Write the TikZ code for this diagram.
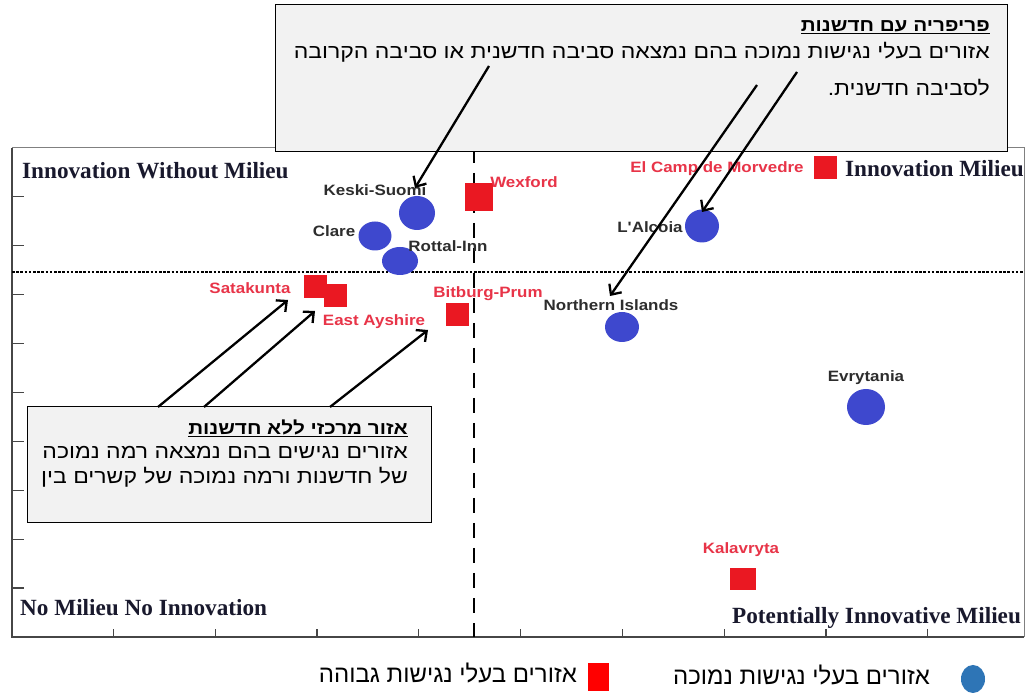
\documentclass[tikz,border=0pt]{standalone}
\usepackage{fontspec}
\setmainfont{Liberation Serif}
\newfontfamily\hebfont[Script=Hebrew,FakeStretch=1.15]{Liberation Sans}
\newfontfamily\legendfont[Script=Hebrew]{Liberation Sans}
\newfontfamily\labelfont[FakeStretch=1.13]{Liberation Sans}
\TeXXeTstate=1
\usetikzlibrary{arrows.meta}
\usetikzlibrary{shapes.geometric}
\definecolor{QuadInk}{RGB}{25,25,45}
\definecolor{RegionInk}{RGB}{45,45,45}
\definecolor{RegionRed}{RGB}{232,52,72}
\definecolor{MarkBlue}{RGB}{62,72,206}
\definecolor{MarkRed}{RGB}{234,24,34}
\definecolor{LegendBlue}{RGB}{46,117,182}
\definecolor{LegendRed}{RGB}{255,0,0}
\definecolor{BoxGray}{RGB}{242,242,242}
\definecolor{FrameGray}{RGB}{70,70,70}

\begin{document}
\begin{tikzpicture}[x=1bp,y=1bp,line join=miter]
  \path[use as bounding box] (0,0) rectangle (1027,693);
  \fill[white] (0,0) rectangle (1027,693);

  \tikzset{
    quadrant/.style={anchor=west,inner sep=0pt,text=QuadInk,
      font=\fontsize{23.2bp}{23.2bp}\selectfont\bfseries},
    region/.style={inner sep=0pt,text=RegionInk,
      font=\labelfont\fontsize{15bp}{15bp}\selectfont\bfseries},
    regionred/.style={region,text=RegionRed},
    lowacc/.style={ellipse,fill=MarkBlue,inner sep=0pt},
    highacc/.style={rectangle,fill=MarkRed,inner sep=0pt,minimum size=23bp},
    callout/.style={draw=black,line width=1bp,fill=BoxGray},
    hebline/.style={anchor=east,inner sep=0pt,text=black,
      font=\hebfont\fontsize{20bp}{20bp}\selectfont},
    hebtitle/.style={hebline,font=\hebfont\fontsize{18bp}{18bp}\selectfont\bfseries},
    legendtext/.style={anchor=east,inner sep=0pt,text=black,
      font=\legendfont\fontsize{24bp}{24bp}\selectfont},
    pointer/.style={-{Straight Barb[length=8bp,width=15bp,line width=2.3bp]},
      line width=2.3bp,draw=black},
  }

  % Frame & ticks
  \draw[line width=1bp,draw=gray] (12,545) -- (1024,545) -- (1024,56);
  \draw[line width=1.6bp,draw=FrameGray] (12,545) -- (12,56) -- (1024,56);
  \foreach \k in {1,...,9} {
    \draw[line width=1.2bp,draw=FrameGray] (12,{56+48.9*\k}) -- ++(12,0);
    \draw[line width=1.2bp,draw=FrameGray] ({11.5+101.8*\k},56) -- ++(0,8);
  }

  % Quadrant dividers
  \coordinate (hleft) at (12,421);
  \coordinate (hright) at (1024,421);
  \coordinate (vtop) at (474,545);
  \coordinate (vbottom) at (474,56);
  \draw[line width=2.6bp,dash pattern=on 2.6bp off 1.6bp] (hleft) -- (hright);
  \draw[line width=2.6bp,dash pattern=on 15bp off 10bp] (vtop) -- (vbottom);

  % Quadrant names
  \node[quadrant] (qtl) at (22,522) {Innovation Without Milieu};
  \node[quadrant] (qtr) at (845,524) {Innovation Milieu};
  \node[quadrant] (qbl) at (20,85) {No Milieu No Innovation};
  \node[quadrant] (qbr) at (732,75) {Potentially Innovative Milieu};

  % Low accessibility regions (circles)
  \node[lowacc,minimum width=36bp,minimum height=34bp] (keski) at (417,480) {};
  \node[lowacc,minimum width=33bp,minimum height=29bp] (clare) at (375,457) {};
  \node[lowacc,minimum width=36bp,minimum height=28bp] (rottal) at (400,432) {};
  \node[lowacc,minimum width=34bp,minimum height=33bp] (alcoia) at (702,467) {};
  \node[lowacc,minimum width=34bp,minimum height=30bp] (northern) at (622,366) {};
  \node[lowacc,minimum width=38bp,minimum height=36bp] (evrytania) at (866,286) {};

  \node[region] (keskilbl) at (375,503) {Keski-Suomi};
  \node[region] (clarelbl) at (334,462) {Clare};
  \node[region] (rottallbl) at (448,447) {Rottal-Inn};
  \node[region] (alcoialbl) at (650,466) {L'Alcoia};
  \node[region] (northernlbl) at (611,388) {Northern Islands};
  \node[region] (evrytanialbl) at (866,315) {Evrytania};

  % High accessibility regions (squares)
  \node[highacc,minimum size=28bp] (wexford) at (479,496) {};
  \node[highacc] (elcamp) at (825.5,525) {};
  \node[highacc] (satakunta) at (315,406.5) {};
  \node[highacc] (ayshire) at (335,397.5) {};
  \node[highacc] (bitburg) at (457.5,378.5) {};
  \node[highacc,minimum width=26bp,minimum height=22bp] (kalavryta) at (743,114) {};

  \node[regionred] (wexfordlbl) at (524,511) {Wexford};
  \node[regionred] (elcamplbl) at (717,524) {El Camp de Morvedre};
  \node[regionred] (satakuntalbl) at (250,405) {Satakunta};
  \node[regionred] (ayshirelbl) at (374,371) {East Ayshire};
  \node[regionred] (bitburglbl) at (488,399) {Bitburg-Prum};
  \node[regionred] (kalavrytalbl) at (741,143) {Kalavryta};

  % ==================== Callout: periphery ====================
  \draw[callout] (275,541) rectangle (1007,688);
  \node[hebtitle] (periphtitle) at (990,666) {\underline{\beginR פריפריה עם חדשנות\endR}};
  \node[hebline] (periphline1) at (990,641) {\beginR אזורים בעלי נגישות נמוכה בהם נמצאה סביבה חדשנית או סביבה הקרובה\endR};
  \node[hebline] (periphline2) at (990,605) {\beginR לסביבה חדשנית.\endR};

  \coordinate (pa1) at (489,627);
  \coordinate (pa2) at (757,608);
  \coordinate (pa3) at (797,621);
  \coordinate (ta1) at (415,505);
  \coordinate (ta2) at (610,397);
  \coordinate (ta3) at (702,481);
  \draw[pointer] (pa1) -- (ta1);
  \draw[pointer] (pa2) -- (ta2);
  \draw[pointer] (pa3) -- (ta3);

  % ==================== Callout: central ====================
  \draw[callout] (27,170) rectangle (431,286);
  \node[hebtitle] (centraltitle) at (408,265) {\underline{\beginR אזור מרכזי ללא חדשנות\endR}};
  \node[hebline] (centralline1) at (408,241) {\beginR אזורים נגישים בהם נמצאה רמה נמוכה\endR};
  \node[hebline] (centralline2) at (408,216) {\beginR של חדשנות ורמה נמוכה של קשרים בין\endR};

  \coordinate (ca1) at (158,286);
  \coordinate (ca2) at (204,286);
  \coordinate (ca3) at (330,286);
  \coordinate (cb1) at (288,393);
  \coordinate (cb2) at (315,382);
  \coordinate (cb3) at (428,363);
  \draw[pointer] (ca1) -- (cb1);
  \draw[pointer] (ca2) -- (cb2);
  \draw[pointer] (ca3) -- (cb3);

  % Legend
  \node[ellipse,fill=LegendBlue,inner sep=0pt,minimum width=24bp,minimum height=28bp] (legcircle) at (973,14) {};
  \node[legendtext] (leglow) at (930,18) {\beginR אזורים בעלי נגישות נמוכה\endR};
  \node[rectangle,fill=LegendRed,inner sep=0pt,minimum width=21bp,minimum height=28bp] (legsquare) at (598.5,16) {};
  \node[legendtext] (leghigh) at (577,20) {\beginR אזורים בעלי נגישות גבוהה\endR};

\end{tikzpicture}
\end{document}
